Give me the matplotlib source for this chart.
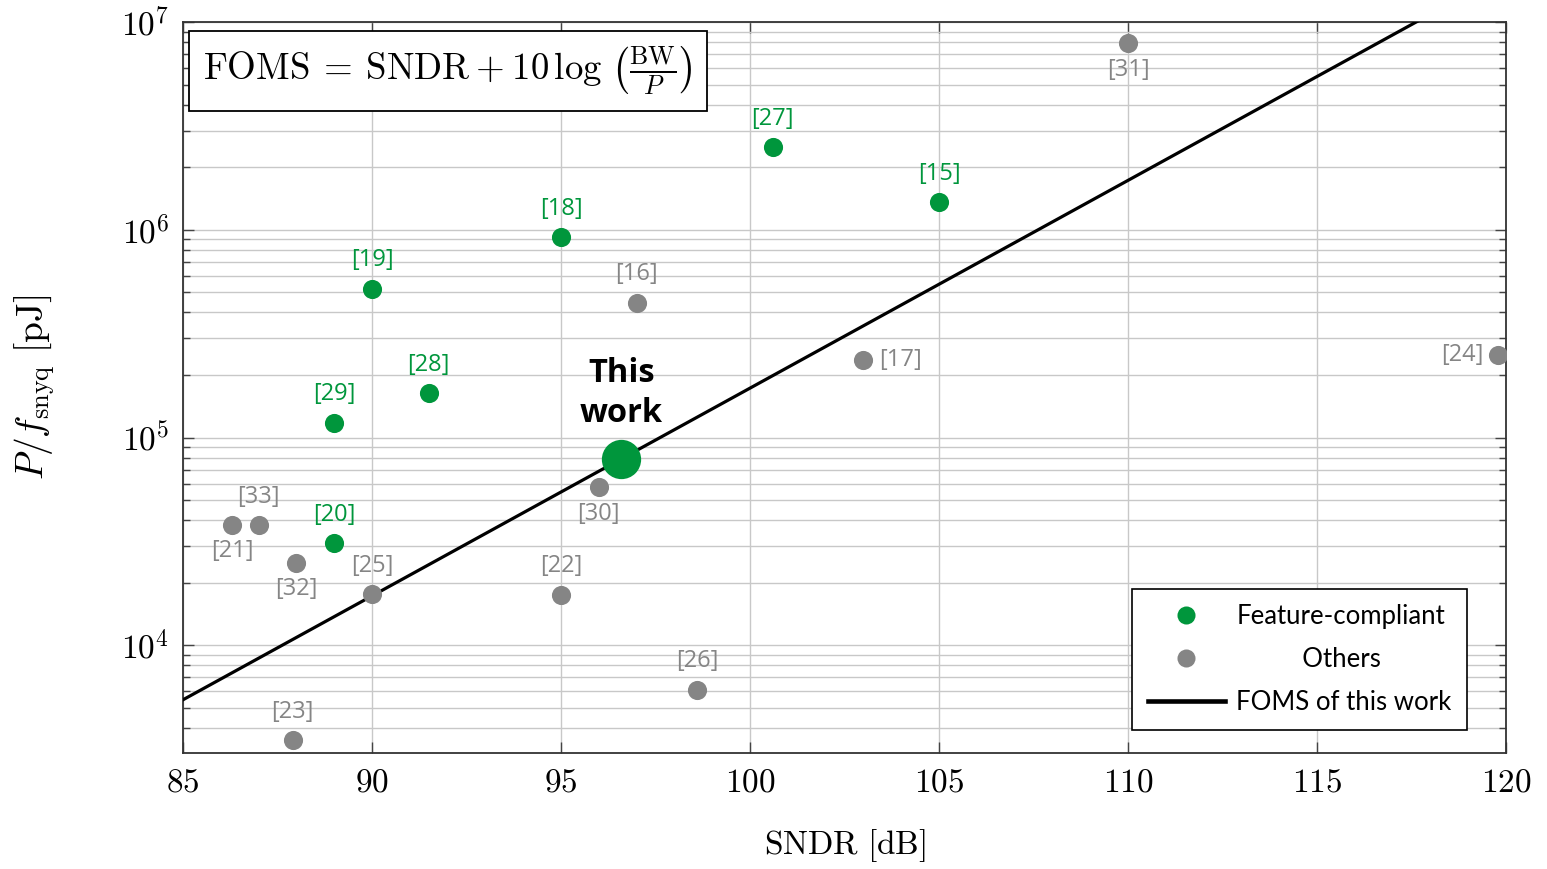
import numpy as np
import matplotlib
matplotlib.use("Agg")
import matplotlib.pyplot as plt
from matplotlib.ticker import FuncFormatter, LogLocator, MultipleLocator
from matplotlib.lines import Line2D

plt.rcParams['mathtext.fontset'] = 'cm'
plt.rcParams['font.family'] = ['DejaVu Serif']

# ---------------- data ----------------
green_refs = ['[27]', '[15]', '[18]', '[19]', '[28]', '[29]', '[20]']
green_sndr = [100.6, 105.0, 95.0, 90.0, 91.5, 89.0, 89.0]
green_pf = [2.5e6, 1.36e6, 9.2e5, 5.2e5, 1.63e5, 1.18e5, 3.1e4]

gray_refs = ['[31]', '[16]', '[17]', '[24]', '[30]', '[33]', '[21]', '[32]',
             '[25]', '[22]', '[26]', '[23]']
gray_sndr = [110.0, 97.0, 103.0, 119.8, 96.0, 87.0, 86.3, 88.0,
             90.0, 95.0, 98.6, 87.9]
gray_pf = [7.9e6, 4.46e5, 2.37e5, 2.5e5, 5.75e4, 3.78e4, 3.8e4, 2.5e4,
           1.76e4, 1.75e4, 6.1e3, 3.5e3]

this_sndr = 96.6
this_pf = 7.9e4

x_ticks = [85, 90, 95, 100, 105, 110, 115, 120]

# label placement (direction of each label relative to its point)
green_pos = ['above'] * 7
gray_pos = ['below', 'above', 'right', 'left', 'below', 'above', 'below', 'below',
            'above', 'above', 'above', 'above']

GREEN = '#00963C'
GRAY = '#858585'

fig = plt.figure(figsize=(15.47, 8.69), dpi=100)
ax = fig.add_axes([183 / 1547, 1 - 753 / 869, (1506 - 183) / 1547, (753 - 22) / 869])

ax.set_xlim(85, 120)
ax.set_yscale('log')
ax.set_ylim(3.03e3, 1e7)

# FOMS line through this work (slope: 1 decade per 10 dB)
xl = np.array([85.0, 120.0])
yl = this_pf * 10 ** ((xl - this_sndr) / 10.0)
ax.plot(xl, yl, color='black', lw=2.3, zorder=3)

ax.scatter(green_sndr, green_pf, s=190, color=GREEN, zorder=4, linewidths=0)
ax.scatter(gray_sndr, gray_pf, s=190, color=GRAY, zorder=4, linewidths=0)
ax.scatter([this_sndr], [this_pf], s=800, color=GREEN, zorder=5, linewidths=0)

def offs(pos):
    if pos == 'above':
        return (0, 20.5), 'center', 'center'
    if pos == 'below':
        return (0, -19), 'center', 'center'
    if pos == 'right':
        return (11, 0), 'left', 'center'
    return (-11, 0), 'right', 'center'

lab_font = dict(family=['Open Sans', 'DejaVu Sans'], fontsize=17)
for r, x, y, p in zip(green_refs, green_sndr, green_pf, green_pos):
    o, ha, va = offs(p)
    ax.annotate(r, (x, y), xytext=o, textcoords='offset points', ha=ha, va=va,
                color=GREEN, zorder=6, **lab_font)
for r, x, y, p in zip(gray_refs, gray_sndr, gray_pf, gray_pos):
    o, ha, va = offs(p)
    ax.annotate(r, (x, y), xytext=o, textcoords='offset points', ha=ha, va=va,
                color=GRAY, zorder=6, **lab_font)

ax.annotate('This\nwork', (this_sndr, this_pf), xytext=(0, 47), textcoords='offset points',
            ha='center', va='center', fontsize=23.5, fontweight='bold', linespacing=1.3,
            family=['Open Sans', 'DejaVu Sans'], color='black', zorder=6)

# grid & ticks
ax.xaxis.set_major_locator(MultipleLocator(5))
ax.yaxis.set_major_locator(LogLocator(base=10, numticks=20))
ax.yaxis.set_minor_locator(LogLocator(base=10, subs=np.arange(2, 10), numticks=20))
ax.grid(True, which='major', axis='both', color='#c8c8c8', lw=1.0, zorder=0)
ax.grid(True, which='minor', axis='y', color='#c8c8c8', lw=1.0, zorder=0)
ax.set_axisbelow(True)
ax.tick_params(which='both', direction='in', top=True, right=True, color='#444444')
ax.tick_params(which='major', length=8, width=1.0, labelsize=24, pad=10)
ax.tick_params(which='minor', length=5, width=1.0)
ax.set_xticks(x_ticks)
ax.xaxis.set_major_formatter(FuncFormatter(lambda v, p: r'$%d$' % round(v)))
ax.yaxis.set_major_formatter(FuncFormatter(lambda v, p: r'$10^{%d}$' % round(np.log10(v))))
for s in ax.spines.values():
    s.set_linewidth(1.3)
    s.set_color('#333333')

ax.set_xlabel(r'$\mathrm{SNDR\ [dB]}$', fontsize=24, labelpad=20)
ax.set_ylabel(r'$P/f_{\mathrm{snyq}}\ \mathrm{[pJ]}$', fontsize=27, labelpad=46)

# formula box
ax.text(0.0151, 0.9685,
        r'$\mathrm{FOMS}\:=\:\mathrm{SNDR}\:+\:10\,\log\,\left(\frac{\mathrm{BW}}{P}\right)$',
        transform=ax.transAxes, ha='left', va='top', fontsize=26.5, zorder=7,
        bbox=dict(boxstyle='square,pad=0.38', fc='white', ec='black', lw=1.3))

# legend
handles = [Line2D([], [], ls='none', marker='o', ms=13, color=GREEN, mew=0),
           Line2D([], [], ls='none', marker='o', ms=13, color=GRAY, mew=0),
           Line2D([], [], color='black', lw=3.3)]
labels = ['Feature-compliant', '          Others', 'FOMS of this work']
leg = ax.legend(handles, labels, loc='lower right', bbox_to_anchor=(0.9705, 0.031),
                frameon=True, fancybox=False, edgecolor='black', framealpha=1,
                prop=dict(family=['Lato', 'DejaVu Sans'], size=18.5),
                handlelength=3.0, handletextpad=0.45, labelspacing=0.7,
                borderpad=0.6, borderaxespad=0)
leg.get_frame().set_linewidth(1.2)

fig.savefig('out.png', dpi=100)
